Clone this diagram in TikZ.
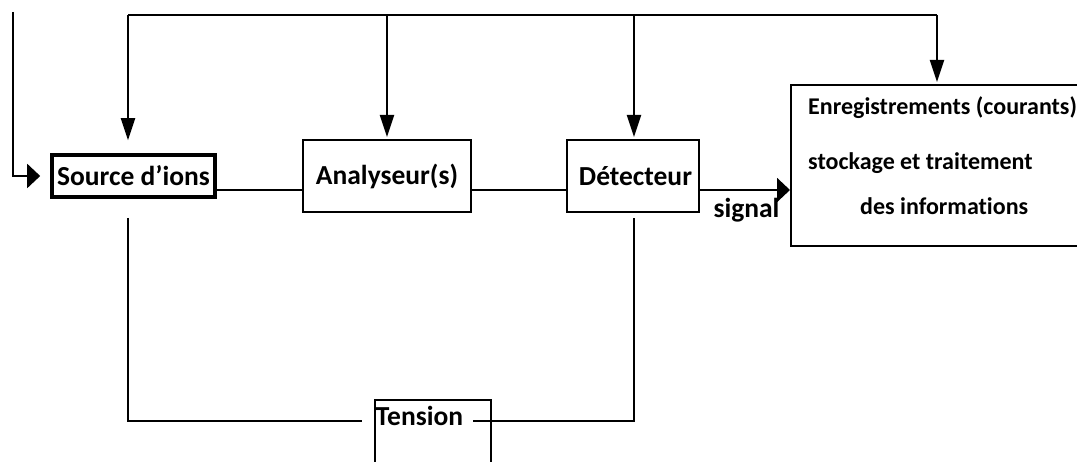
\documentclass[tikz,border=0pt]{standalone}
\usepackage{fontspec}
\setmainfont{Carlito}[Ligatures={NoCommon}]
\usetikzlibrary{arrows.meta,calc}
\tikzset{
  ln/.style={line width=2pt, line cap=butt},
  vtip/.style={-{Triangle[length=22pt,width=14pt]}},
  htip/.style={-{Triangle[length=13pt,width=24pt]}},
  box/.style={draw, line width=2pt, inner sep=0pt, font=\fontsize{27.5}{30}\selectfont\bfseries},
  thickbox/.style={box, line width=3.6pt},
  lab/.style={inner sep=0pt, font=\fontsize{27.5}{30}\selectfont\bfseries},
  small/.style={inner sep=0pt, anchor=base west, font=\fontsize{24}{26}\selectfont\bfseries}
}
\begin{document}
\begin{tikzpicture}[x=1pt,y=-1pt]
\useasboundingbox (0,0) rectangle (1077,462);
\fill[white] (0,0) rectangle (1077,462);
% boxes
\node[thickbox, minimum width=163pt, minimum height=42pt] (src) at (133.5,176) {Source d’ions};
\node[box, minimum width=168pt, minimum height=72pt] (ana) at (387,176) {Analyseur(s)};
\node[box, minimum width=132pt, minimum height=72pt] (det) at (633,176) {\hspace*{5pt}Détecteur};
\node[box, anchor=north west, minimum width=300pt, minimum height=161pt] (enr) at (790,84) {};
\node[box, anchor=north west, minimum width=116pt, minimum height=90pt] (tbox) at (374,399) {};
% texts
\node[lab, anchor=base] (ten) at (419.5,425) {Tension};
\node[lab, anchor=base] (sig) at (746.5,218) {signal};
\node[small] (e1) at (808,115) {Enregistrements (courants)};
\node[small] (e2) at (808,170) {stockage et traitement};
\node[small] (e3) at (860,215) {des informations};
% coordinates
\coordinate (lt) at (13,12);
\coordinate (tl) at (128,15);
\coordinate (tr) at (937,15);
\coordinate (hl) at (0,190);
\coordinate (bl) at (128,421);
\coordinate (br) at (634,421);
% top-left input
\draw[ln, htip] (lt) -- (lt |- src.west) -- ($(src.west)+(-10,0)$);
% top distribution
\draw[ln] (tl) -- (tr);
\draw[ln, vtip] (tl) -- ($(src.north -| tl)+(0,-13)$);
\draw[ln, vtip] (ana.north |- tl) -- ($(ana.north)+(0,-2)$);
\draw[ln, vtip] (br |- tl) -- ($(det.north -| br)+(0,-2)$);
\draw[ln, vtip] (tr) -- ($(enr.north -| tr)+(0,-2)$);
% main chain
\draw[ln] (src.east |- hl) -- (ana.west |- hl);
\draw[ln] (ana.east |- hl) -- (det.west |- hl);
\draw[ln, htip] (det.east |- hl) -- (enr.west |- hl);
% tension loop
\draw[ln] ($(src.south -| bl)+(0,19)$) -- (bl) -- ($(ten.base west)+(-14,-4)$);
\draw[ln] ($(ten.base east)+(10,-4)$) -- (br) -- ($(det.south -| br)+(0,5)$);
\end{tikzpicture}
\end{document}
